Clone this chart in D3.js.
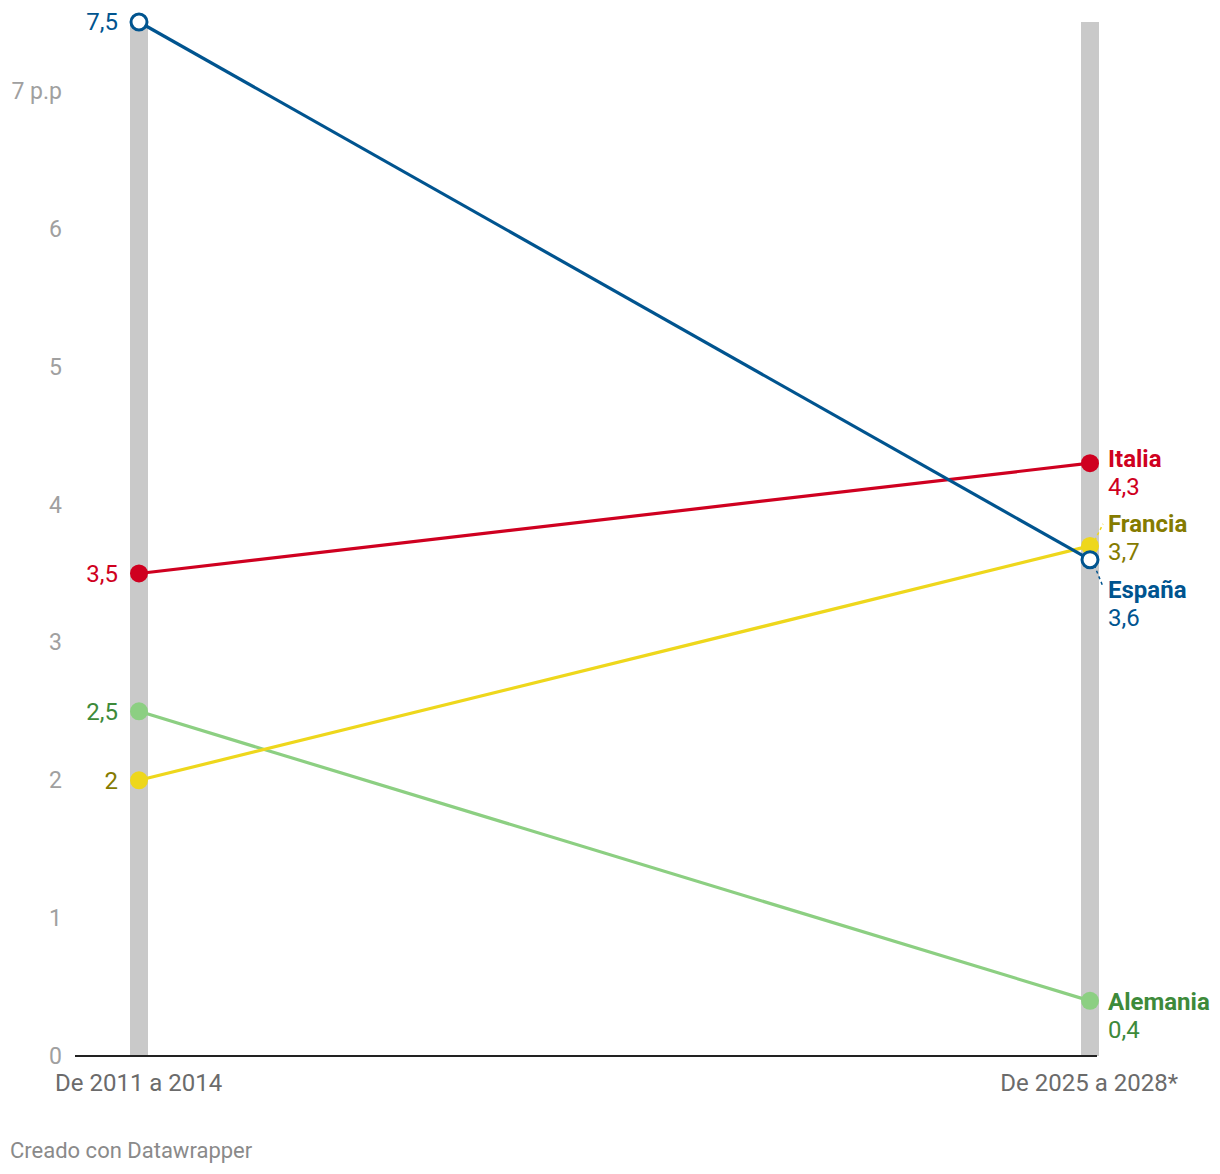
<!DOCTYPE html>
<html><head><meta charset="utf-8">
<script src="https://cdn.jsdelivr.net/npm/d3@7"></script>
<style>
body{margin:0;background:#fff;font-family:Roboto,"Open Sans",sans-serif;}
svg text{font-family:Roboto,sans-serif;}
</style></head><body>
<svg id="chart" width="1220" height="1174"></svg>
<script>
const periods = ["De 2011 a 2014", "De 2025 a 2028*"];
const countries = ["España", "Italia", "Francia", "Alemania"];
const startValues = [7.5, 3.5, 2.0, 2.5];
const endValues = [3.6, 4.3, 3.7, 0.4];
const startLabels = ["7,5", "3,5", "2", "2,5"];
const endLabels = ["3,6", "4,3", "3,7", "0,4"];
const lineColors = ["#00548f", "#cf0020", "#eed71c", "#8ccf82"];
const textColors = ["#00548f", "#cf0020", "#857b00", "#3d8a3a"];
const yTicks = [0, 1, 2, 3, 4, 5, 6, 7];
const yTickLabels = ["0", "1", "2", "3", "4", "5", "6", "7 p.p"];
// label vertical offsets (px) for right labels relative to point
const endLabelShift = [30, -5, -22, 1];

const svg = d3.select("#chart");
const y = d3.scaleLinear().domain([0, 7.5]).range([1056, 22]);
const x = d3.scalePoint().domain(periods).range([139, 1090]);

// y tick labels
svg.append("g").selectAll("text").data(yTicks).join("text")
  .attr("x", 62).attr("y", d => y(d)).attr("dy", "0.35em")
  .attr("text-anchor", "end").attr("font-size", 23).attr("fill", "#a0a0a0")
  .text((d, i) => yTickLabels[i]);

// gray column bars
svg.append("g").selectAll("rect").data(periods).join("rect")
  .attr("x", d => x(d) - 9).attr("width", 18)
  .attr("y", y(7.5)).attr("height", y(0) - y(7.5))
  .attr("fill", "#c9c9c9");

// baseline
svg.append("line").attr("x1", 75).attr("x2", 1097).attr("y1", y(0)).attr("y2", y(0))
  .attr("stroke", "#222").attr("stroke-width", 2);

// x labels
svg.append("text").attr("x", 55).attr("y", 1091).attr("font-size", 24).attr("fill", "#6b6b6b")
  .text(periods[0]);
svg.append("text").attr("x", 1178).attr("y", 1091).attr("text-anchor", "end").attr("font-size", 24).attr("fill", "#6b6b6b")
  .text(periods[1]);

const data = countries.map((c, i) => ({c, i, s: startValues[i], e: endValues[i]}));
const order = [3, 2, 1, 0];

// lines
svg.append("g").selectAll("line").data(order.map(i => data[i])).join("line")
  .attr("x1", x(periods[0])).attr("x2", x(periods[1]))
  .attr("y1", d => y(d.s)).attr("y2", d => y(d.e))
  .attr("stroke", d => lineColors[d.i]).attr("stroke-width", 3.2);

// connector dashes
data.forEach(d => {
  if (Math.abs(endLabelShift[d.i]) > 10) {
    const py = y(d.e);
    const ty = py + endLabelShift[d.i] + (endLabelShift[d.i] > 0 ? -3 : 0);
    svg.append("line").attr("x1", x(periods[1]) + 2).attr("y1", py)
      .attr("x2", x(periods[1]) + 13).attr("y2", ty)
      .attr("stroke", lineColors[d.i]).attr("stroke-width", 1.5)
      .attr("stroke-dasharray", "3,3");
  }
});

// points
order.forEach(i => {
  const d = data[i];
  [d.s, d.e].forEach((v, k) => {
    svg.append("circle").attr("cx", x(periods[k])).attr("cy", y(v)).attr("r", i === 0 ? 8 : 9)
      .attr("fill", i === 0 ? "#fff" : lineColors[i])
      .attr("stroke", i === 0 ? lineColors[i] : "none")
      .attr("stroke-width", i === 0 ? 3 : 0);
  });
});

// start labels
svg.append("g").selectAll("text").data(data).join("text")
  .attr("x", 118).attr("y", d => y(d.s)).attr("dy", "0.35em")
  .attr("text-anchor", "end").attr("font-size", 24)
  .attr("fill", d => textColors[d.i]).text(d => startLabels[d.i]);

// end labels
const eg = svg.append("g").selectAll("g").data(data).join("g")
  .attr("transform", d => `translate(1108,${y(d.e) + endLabelShift[d.i]})`);
eg.append("text").attr("dy", "0.35em").attr("font-size", 24).attr("font-weight", "bold")
  .attr("fill", d => textColors[d.i]).text(d => d.c);
eg.append("text").attr("y", 28).attr("dy", "0.35em").attr("font-size", 24)
  .attr("fill", d => textColors[d.i]).text(d => endLabels[d.i]);

// credit
svg.append("text").attr("x", 10).attr("y", 1158).attr("font-size", 22).attr("fill", "#8a8a8a")
  .text("Creado con Datawrapper");
</script>
</body></html>
